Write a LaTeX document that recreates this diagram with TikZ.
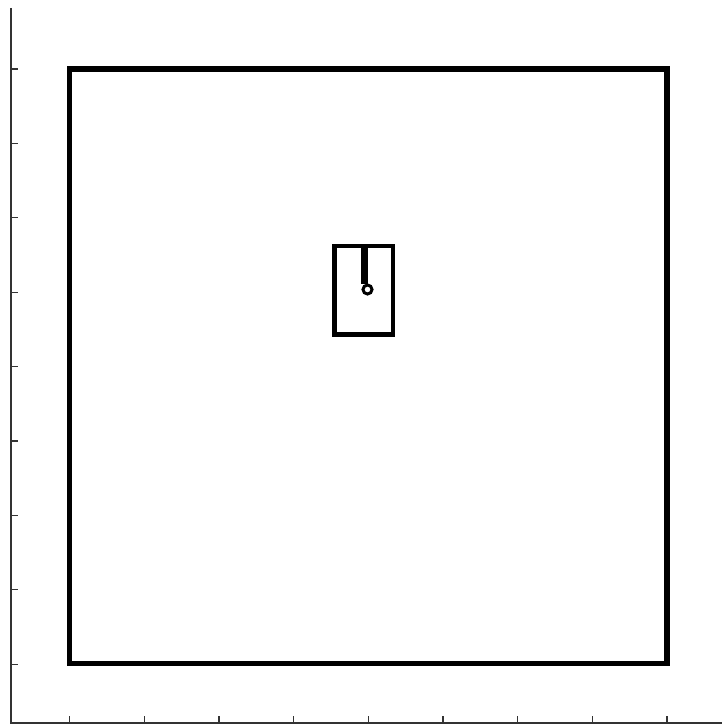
\documentclass[tikz,border=0pt]{standalone}
\begin{document}
\begin{tikzpicture}[x=1pt,y=-1pt,
  axisline/.style={line width=1.3pt,draw=black!80},
  thickbox/.style={line width=5.5pt,draw=black},
  thinbox/.style={line width=4.2pt,draw=black},
  hook/.style={line width=7pt,draw=black},
  ring/.style={line width=3pt,draw=black}]
\useasboundingbox (0,0) rectangle (722,725);
% axes
\draw[axisline] (11,8) -- (11,723) -- (722,723);
\foreach \i in {0,...,8}{
  \draw[axisline] (11,{69+\i*74.4}) -- (18,{69+\i*74.4});
  \draw[axisline] ({69.5+\i*74.7},723) -- ({69.5+\i*74.7},716);
}
% big square
\draw[thickbox] (69.5,69) rectangle (667,663.5);
% small rectangle
\draw[thinbox] (334.5,246.3) rectangle (393.3,334.5);
% hook
\draw[hook] (364,246) -- (364,284);
\draw[ring] (367.5,289.5) circle (4.5);
\end{tikzpicture}
\end{document}
